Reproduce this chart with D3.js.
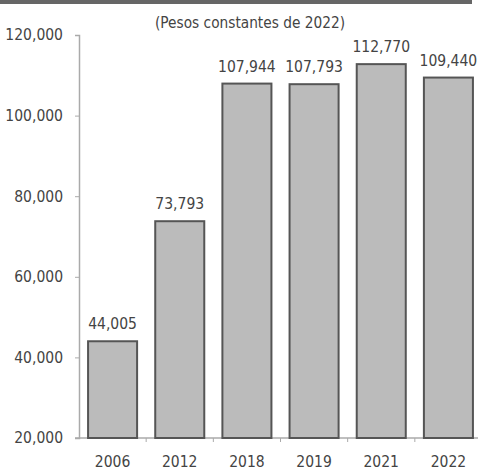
<!DOCTYPE html>
<html><head><meta charset="utf-8">
<script src="https://cdn.jsdelivr.net/npm/d3@7"></script>
<style>
body{margin:0;background:#fff;}
text{font-family:"DejaVu Sans Condensed","DejaVu Sans",sans-serif;font-stretch:condensed;fill:#444;}
</style></head>
<body><svg id="c" width="478" height="474"></svg>
<script>
const categories = ["2006","2012","2018","2019","2021","2022"];
const values = [44005,73793,107944,107793,112770,109440];
const valueLabels = ["44,005","73,793","107,944","107,793","112,770","109,440"];
const yTicks = [20000,40000,60000,80000,100000,120000];
const subtitle = "(Pesos constantes de 2022)";

const svg = d3.select("#c");
svg.append("rect").attr("x",0).attr("y",0).attr("width",472).attr("height",4).attr("fill","#666");

const x = d3.scaleBand().domain(categories).range([79,482]).paddingInner(0.27).paddingOuter(0.135);
const y = d3.scaleLinear().domain([20000,120000]).range([438,35]);

svg.append("text").attr("x",250).attr("y",28).attr("text-anchor","middle")
  .attr("textLength",190).attr("lengthAdjust","spacingAndGlyphs")
  .style("font-size","15px").text(subtitle);

// y axis
const ya = svg.append("g").attr("transform","translate(79,0)")
  .call(d3.axisLeft(y).tickValues(yTicks).tickFormat(d3.format(",")).tickSize(4).tickPadding(12));
ya.select(".domain").attr("stroke","#aaa").attr("stroke-width",1.5);
ya.selectAll(".tick line").attr("stroke","#aaa");
ya.selectAll("text").style("font-size","15.5px").attr("fill","#444");

// x axis
const xa = svg.append("g").attr("transform","translate(0,438)");
xa.append("line").attr("x1",75).attr("x2",482).attr("y1",0).attr("y2",0).attr("stroke","#aaa").attr("stroke-width",1.5);
const bounds = categories.slice(1).map(c => x(c) - x.step()*x.paddingInner()/2);
xa.selectAll(".bt").data(bounds).join("line").attr("class","bt")
  .attr("x1",d=>d).attr("x2",d=>d).attr("y1",0).attr("y2",4).attr("stroke","#aaa");
xa.selectAll(".xl").data(categories).join("text").attr("class","xl")
  .attr("x",d=>x(d)+x.bandwidth()/2).attr("y",29).attr("text-anchor","middle")
  .style("font-size","15.5px").text(d=>d);

// bars
svg.selectAll(".bar").data(values).join("rect").attr("class","bar")
  .attr("x",(d,i)=>x(categories[i])).attr("width",x.bandwidth())
  .attr("y",d=>y(d)).attr("height",d=>y(20000)-y(d))
  .attr("fill","#bbbbbb").attr("stroke","#555").attr("stroke-width",2);

svg.selectAll(".vl").data(values).join("text").attr("class","vl")
  .attr("x",(d,i)=>x(categories[i])+x.bandwidth()/2).attr("y",d=>y(d)-12)
  .attr("text-anchor","middle").style("font-size","15.5px").text((d,i)=>valueLabels[i]);
</script></body></html>
